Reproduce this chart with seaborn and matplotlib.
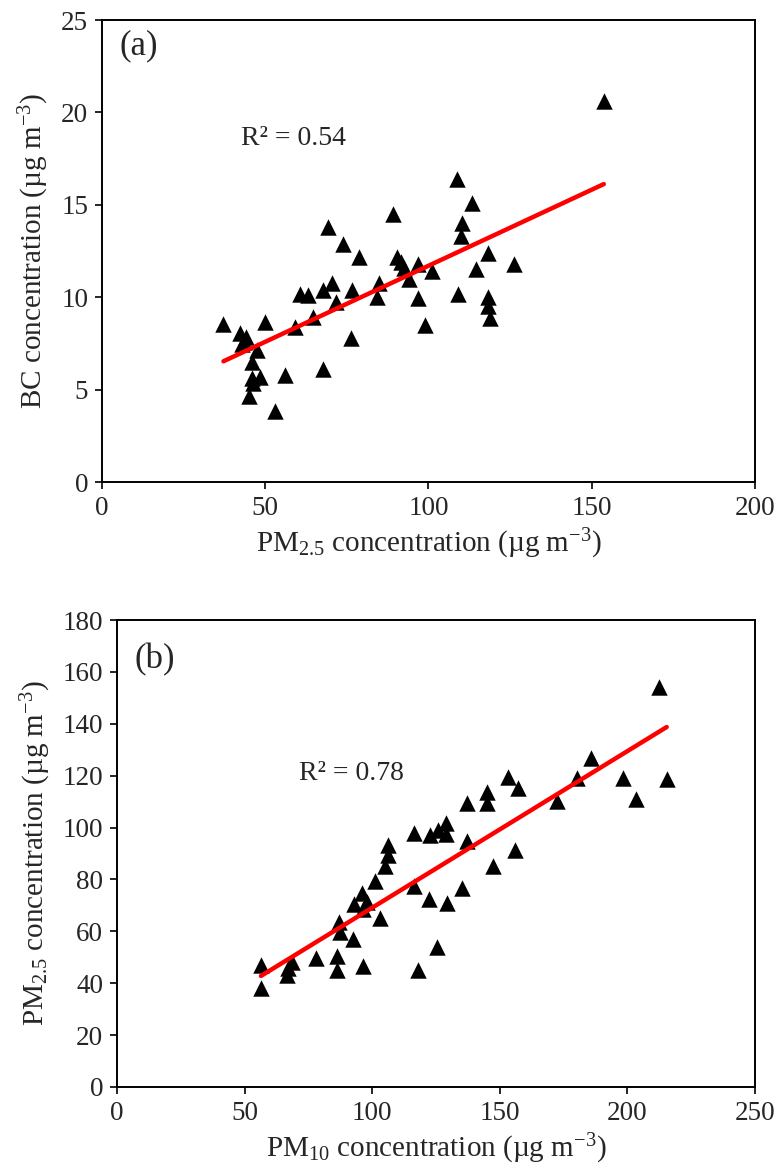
import matplotlib
matplotlib.use("Agg")
import matplotlib.pyplot as plt
import seaborn as sns
import pandas as pd

sns.set_theme(style="white")
plt.rcParams["font.family"] = ["Liberation Serif", "DejaVu Serif"]
plt.rcParams["mathtext.fontset"] = "custom"
plt.rcParams["mathtext.rm"] = "Liberation Serif"
plt.rcParams["mathtext.it"] = "Liberation Serif:italic"
plt.rcParams["mathtext.bf"] = "Liberation Serif:bold"

# Panel (a): PM2.5 vs BC
pm25_a = [37.2, 42.3, 44.1, 42.8, 49.9, 47.4, 45.8, 45.8, 48.4, 46.4, 45.0, 53.0,
          56.0, 59.1, 60.6, 63.2, 64.7, 67.6, 69.3, 67.8, 70.3, 71.7, 73.9, 76.2,
          76.7, 78.8, 84.1, 84.9, 89.2, 90.2, 92.5, 94.1, 96.9, 96.9, 98.9, 101.0,
          108.8, 113.4, 110.4, 110.0, 118.1, 114.5, 126.2, 108.9, 118.3, 118.3,
          118.8, 153.7, 43.5, 91.5]
bc_a = [8.55, 8.04, 7.86, 7.47, 8.67, 7.14, 6.51, 5.61, 5.70, 5.34, 4.65, 3.86,
        5.79, 8.37, 10.2, 10.1, 8.91, 6.10, 13.8, 10.4, 10.75, 9.76, 12.9, 7.78,
        10.4, 12.2, 10.0, 10.75, 14.5, 12.2, 11.56, 11.0, 11.8, 9.94, 8.5, 11.4,
        16.4, 15.1, 14.0, 13.3, 12.4, 11.5, 11.8, 10.2, 10.0, 9.5,
        8.9, 20.6, 7.6, 11.9]

# Panel (b): PM10 vs PM2.5
pm10_b = [56.4, 56.4, 66.5, 67.1, 68.4, 78.0, 86.1, 86.3, 87.1, 87.4, 92.6, 96.5,
          92.9, 95.9, 97.8, 96.5, 103.1, 101.1, 104.9, 106.1, 106.3, 116.5, 116.4,
          118.1, 122.3, 122.6, 125.3, 125.9, 128.9, 128.9, 129.2, 135.1, 137.0,
          137.0, 145.1, 145.1, 147.5, 153.3, 157.0, 155.9, 172.5, 180.1, 185.6,
          198.2, 203.4, 212.5, 215.4]
pm25_b = [47.0, 38.0, 43.2, 45.8, 48.3, 49.6, 50.5, 45.1, 63.7, 59.9, 56.9, 46.6,
          70.5, 74.7, 71.4, 68.5, 65.3, 79.4, 85.2, 89.4, 93.3, 98.0, 77.6,
          45.1, 72.4, 97.1, 54.1, 99.1, 101.7, 97.5, 70.8, 76.8, 109.4,
          95.0, 113.8, 109.4, 85.2, 119.6, 115.4, 91.4, 110.3, 119.0, 127.0,
          119.0, 110.9, 154.1, 118.7]

df_a = pd.DataFrame({"PM25": pm25_a, "BC": bc_a})
df_b = pd.DataFrame({"PM10": pm10_b, "PM25": pm25_b})

W, H = 777, 1176
fig = plt.figure(figsize=(W / 100, H / 100), dpi=100)
ax1 = fig.add_axes([102 / W, 1 - 482 / H, 653 / W, 462 / H])
ax2 = fig.add_axes([117 / W, 1 - 1087 / H, 638 / W, 467 / H])

TFS = 19.5
LFS = 21
scat = dict(color="black", s=140, alpha=1, linewidths=0, zorder=3)
line = dict(color="#ff0000", lw=3.2, zorder=4, solid_capstyle="round")

sns.regplot(data=df_a, x="PM25", y="BC", ax=ax1, ci=None, marker="^",
            scatter_kws=scat, line_kws=line)
sns.regplot(data=df_b, x="PM10", y="PM25", ax=ax2, ci=None, marker="^",
            scatter_kws=scat, line_kws=line)

ax1.set_xlim(0, 200)
ax1.set_ylim(0, 25)
ax1.set_xticks([0, 50, 100, 150, 200])
ax1.set_yticks([0, 5, 10, 15, 20, 25])
ax1.set_xlabel(r"PM$_{2.5}$ concentration (µg m$^{-3}$)", fontsize=LFS, labelpad=4)
ax1.set_ylabel(r"BC concentration (µg m$^{-3}$)", fontsize=LFS, labelpad=7)
ax1.text(5.5, 23.6, "(a)", fontsize=25, ha="left", va="center")
ax1.text(42.5, 18.6, "R² = 0.54", fontsize=20, ha="left", va="center")

ax2.set_xlim(0, 250)
ax2.set_ylim(0, 180)
ax2.set_xticks([0, 50, 100, 150, 200, 250])
ax2.set_yticks(list(range(0, 181, 20)))
ax2.set_xlabel(r"PM$_{10}$ concentration (µg m$^{-3}$)", fontsize=LFS, labelpad=4)
ax2.set_ylabel(r"PM$_{2.5}$ concentration (µg m$^{-3}$)", fontsize=LFS, labelpad=7)
ax2.text(7, 164.6, "(b)", fontsize=25, ha="left", va="center")
ax2.text(71.5, 121, "R² = 0.78", fontsize=20, ha="left", va="center")

for ax in (ax1, ax2):
    for sp in ax.spines.values():
        sp.set_color("black")
        sp.set_linewidth(1.4)
        sp.set_visible(True)
    ax.tick_params(axis="both", which="major", direction="out", length=5,
                   width=1.2, color="black", labelsize=TFS, pad=5,
                   bottom=True, left=True, top=False, right=False)
    ax.set_facecolor("white")
    ax.grid(False)

fig.savefig("out.png", dpi=100, facecolor="white")
